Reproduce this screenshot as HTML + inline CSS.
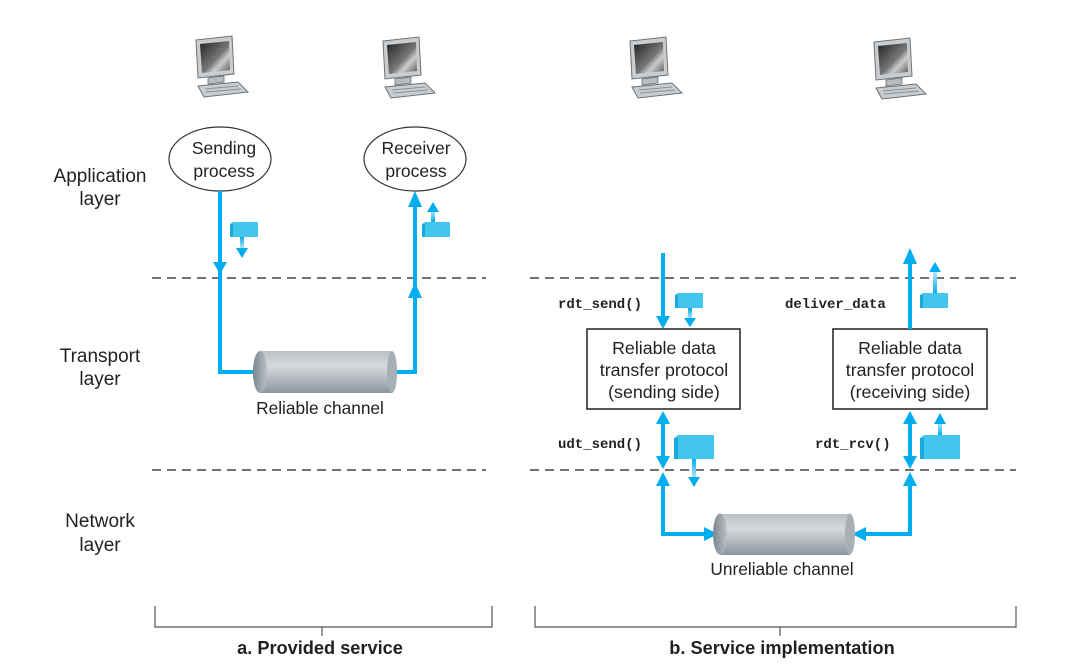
<!DOCTYPE html>
<html><head><meta charset="utf-8"><style>
html,body{margin:0;padding:0;background:#fff;}
svg{display:block;}
text{font-family:"Liberation Sans",sans-serif;fill:#231f20;}
.mono{font-family:"Liberation Mono",monospace;font-weight:bold;font-size:14px;}
</style></head><body>
<svg width="1068" height="670" viewBox="0 0 1068 670" xmlns="http://www.w3.org/2000/svg">
<defs>
<linearGradient id="scr" x1="0" y1="0" x2="1" y2="1">
<stop offset="0" stop-color="#222"/><stop offset="0.55" stop-color="#777"/><stop offset="0.7" stop-color="#ccc"/><stop offset="1" stop-color="#555"/></linearGradient>
<linearGradient id="cyl" x1="0" y1="0" x2="0" y2="1">
<stop offset="0" stop-color="#b8c0c6"/><stop offset="0.35" stop-color="#d5dadd"/><stop offset="1" stop-color="#8d969d"/></linearGradient>
<linearGradient id="cap" x1="0" y1="0" x2="1" y2="0">
<stop offset="0" stop-color="#7d868d"/><stop offset="1" stop-color="#b9c0c5"/></linearGradient>
<linearGradient id="pk" x1="0" y1="0" x2="0" y2="1"><stop offset="0" stop-color="#00aeef"/><stop offset="1" stop-color="#bfe9fa"/></linearGradient>
<g id="pc">
<path d="M2 4 L38 0 L40 38 L4 42 Z" fill="#c9cdd0" stroke="#6d7276" stroke-width="1"/>
<path d="M6 8 L35 5 L36 34 L8 37 Z" fill="url(#scr)"/>
<path d="M14 42 L30 40 L30 46 L14 48 Z" fill="#b7bcc0" stroke="#6d7276" stroke-width="0.8"/>
<path d="M4 50 L44 46 L54 56 L10 61 Z" fill="#c9cdd0" stroke="#6d7276" stroke-width="1"/>
<path d="M11 53 L44 50 M12 56 L47 53" stroke="#8a9094" stroke-width="1"/>
</g>
<g id="pkt">
<path d="M0 2 L3 0 L28 0 L28 15 L0 15 Z" fill="#43c6ee"/>
<rect x="0" y="2" width="3" height="13" fill="#1aa9dc"/>
</g>
<g id="pktb">
<path d="M0 3 L4 0 L40 0 L40 24 L0 24 Z" fill="#43c6ee"/>
<rect x="0" y="3" width="4" height="21" fill="#1aa9dc"/>
</g>
</defs>

<use href="#pc" x="194" y="36"/>
<use href="#pc" x="381" y="37"/>
<use href="#pc" x="628" y="37"/>
<use href="#pc" x="872" y="38"/>

<g font-size="19" text-anchor="middle">
<text x="100" y="182">Application</text><text x="100" y="205">layer</text>
<text x="100" y="362">Transport</text><text x="100" y="385">layer</text>
<text x="100" y="527">Network</text><text x="100" y="551">layer</text>
</g>

<g stroke="#444" stroke-width="1.5" stroke-dasharray="9,6">
<line x1="152" y1="278" x2="486" y2="278"/><line x1="530" y1="278" x2="1016" y2="278"/>
<line x1="152" y1="470" x2="486" y2="470"/><line x1="530" y1="470" x2="1016" y2="470"/>
</g>

<ellipse cx="220" cy="159" rx="51" ry="32" fill="#fff" stroke="#333" stroke-width="1.2"/>
<ellipse cx="415" cy="159" rx="51" ry="32" fill="#fff" stroke="#333" stroke-width="1.2"/>
<g font-size="17.5" text-anchor="middle">
<text x="224" y="154">Sending</text><text x="224" y="177">process</text>
<text x="416" y="154">Receiver</text><text x="416" y="177">process</text>
</g>

<g stroke="#00aeef" stroke-width="4" fill="none">
<polyline points="220,191 220,372 255,372"/>
<polyline points="390,372 415,372 415,200"/>
</g>
<g fill="#00aeef">
<polygon points="213,262 227,262 220,274"/>
<polygon points="253,366 265,372 253,378"/>
<polygon points="408,298 422,298 415,282"/>
<polygon points="408,207 422,207 415,191"/>
</g>
<rect x="260" y="351" width="132" height="42" fill="url(#cyl)"/>
<ellipse cx="392" cy="372" rx="5" ry="21" fill="#a8b0b6"/>
<ellipse cx="260" cy="372" rx="7" ry="21" fill="url(#cap)"/>
<text x="320" y="414" font-size="17.3" text-anchor="middle">Reliable channel</text>

<use href="#pkt" x="230" y="222"/>
<rect x="240" y="237" width="4" height="12" fill="url(#pk)"/>
<polygon points="236,248 248,248 242,258" fill="#00aeef"/>
<use href="#pkt" x="422" y="222"/>
<rect x="431" y="210" width="4" height="12" fill="url(#pk)" transform="rotate(180 433 216)"/>
<polygon points="427,212 439,212 433,202" fill="#00aeef"/>

<rect x="587" y="329" width="153" height="80" fill="#fff" stroke="#231f20" stroke-width="1.5"/>
<rect x="833" y="329" width="154" height="80" fill="#fff" stroke="#231f20" stroke-width="1.5"/>
<g font-size="17.8" text-anchor="middle">
<text x="664" y="354">Reliable data</text><text x="664" y="376">transfer protocol</text><text x="664" y="398">(sending side)</text>
<text x="910" y="354">Reliable data</text><text x="910" y="376">transfer protocol</text><text x="910" y="398">(receiving side)</text>
</g>
<text class="mono" x="558" y="308">rdt_send()</text>
<text class="mono" x="558" y="448">udt_send()</text>
<text class="mono" x="785" y="308">deliver_data</text>
<text class="mono" x="815" y="448">rdt_rcv()</text>

<g stroke="#00aeef" stroke-width="4" fill="none">
<line x1="663" y1="253" x2="663" y2="318"/>
<line x1="663" y1="422" x2="663" y2="458"/>
<polyline points="663,484 663,534 706,534"/>
<line x1="910" y1="262" x2="910" y2="329"/>
<line x1="910" y1="422" x2="910" y2="458"/>
<polyline points="866,534 910,534 910,484"/>
</g>
<g fill="#00aeef">
<polygon points="656,316 670,316 663,329"/>
<polygon points="656,424 670,424 663,411"/>
<polygon points="656,456 670,456 663,469"/>
<polygon points="656,486 670,486 663,472"/>
<polygon points="704,527 718,534 704,541"/>
<polygon points="903,264 917,264 910,248"/>
<polygon points="903,424 917,424 910,411"/>
<polygon points="903,456 917,456 910,469"/>
<polygon points="903,486 917,486 910,472"/>
<polygon points="866,527 852,534 866,541"/>
</g>
<rect x="720" y="514" width="130" height="41" fill="url(#cyl)"/>
<ellipse cx="850" cy="534" rx="5" ry="20.5" fill="#a8b0b6"/>
<ellipse cx="720" cy="534" rx="7" ry="20.5" fill="url(#cap)"/>
<text x="782" y="575" font-size="17.3" text-anchor="middle">Unreliable channel</text>

<use href="#pkt" x="675" y="293"/>
<rect x="688" y="308" width="4" height="12" fill="url(#pk)"/>
<polygon points="684,318 696,318 690,327" fill="#00aeef"/>
<use href="#pktb" x="674" y="435"/>
<rect x="692" y="459" width="4" height="20" fill="url(#pk)"/>
<polygon points="688,477 700,477 694,487" fill="#00aeef"/>
<use href="#pkt" x="920" y="293"/>
<rect x="933" y="271" width="4" height="22" fill="url(#pk)" transform="rotate(180 935 282)"/>
<polygon points="929,272 941,272 935,262" fill="#00aeef"/>
<use href="#pktb" x="920" y="435"/>
<rect x="938" y="422" width="4" height="13" fill="url(#pk)" transform="rotate(180 940 428.5)"/>
<polygon points="934,424 946,424 940,413" fill="#00aeef"/>

<g stroke="#555" stroke-width="1.2" fill="none">
<polyline points="155,606 155,627 492,627 492,606"/>
<line x1="322" y1="627" x2="322" y2="636"/>
<polyline points="535,606 535,627 1016,627 1016,606"/>
<line x1="780" y1="627" x2="780" y2="636"/>
</g>
<g font-size="18.2" font-weight="bold" text-anchor="middle">
<text x="320" y="654">a. Provided service</text>
<text x="782" y="654">b. Service implementation</text>
</g>
</svg>
</body></html>
